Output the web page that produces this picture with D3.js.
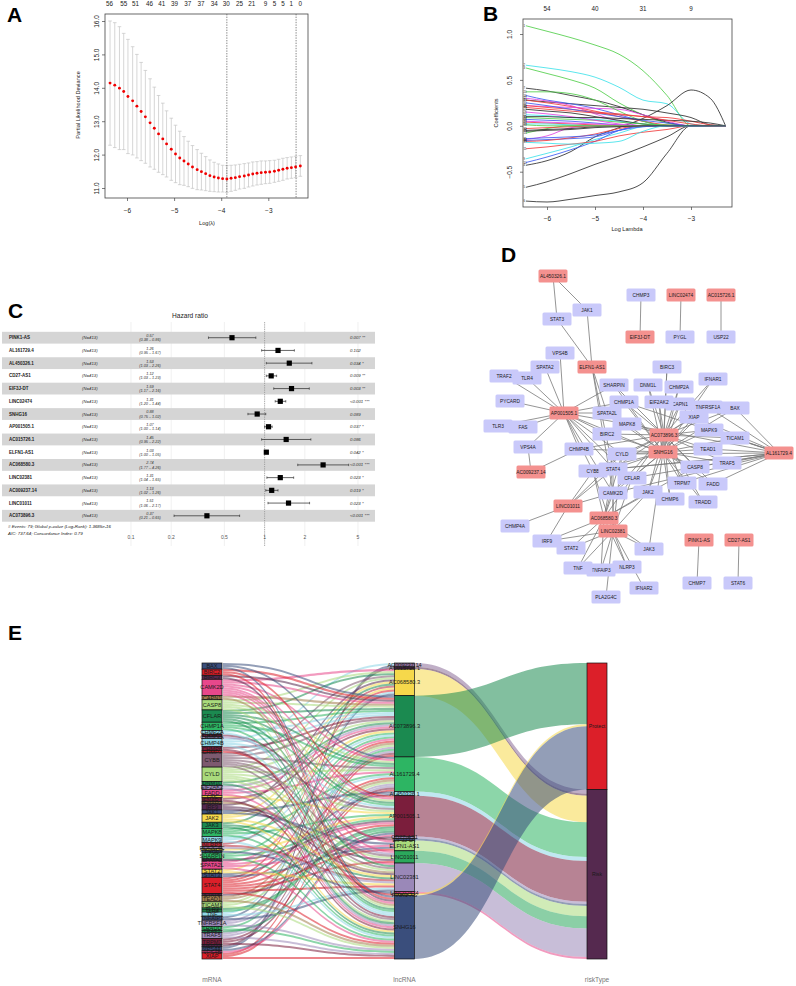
<!DOCTYPE html>
<html>
<head>
<meta charset="utf-8">
<title>Figure</title>
<script src="https://cdn.jsdelivr.net/npm/d3@7"></script>
<style>
  body { margin: 0; background: #fff; }
  svg { display: block; font-family: "Liberation Sans", Arial, Helvetica, sans-serif; }
</style>
</head>
<body>
<div id="figure"></div>
<script>
// ---------------- Panel A data (CV curve) ----------------
const lambdaA = [-6.36,-6.26,-6.16,-6.07,-5.98,-5.88,-5.79,-5.70,-5.61,-5.51,-5.42,-5.33,-5.24,-5.16,-5.06,
  -4.97,-4.88,-4.79,-4.70,-4.61,-4.51,-4.42,-4.33,-4.24,-4.15,-4.06,-3.97,-3.88,-3.79,-3.70,
  -3.61,-3.51,-3.42,-3.33,-3.24,-3.15,-3.06,-2.97,-2.87,-2.78,-2.69,-2.60,-2.51,-2.42,-2.32];
const cvmA = [14.14,14.08,13.99,13.89,13.74,13.61,13.45,13.29,13.13,12.95,12.79,12.62,12.47,12.32,12.16,
  12.02,11.90,11.81,11.72,11.63,11.55,11.49,11.43,11.37,11.33,11.30,11.28,11.27,11.29,11.31,
  11.34,11.36,11.39,11.42,11.44,11.46,11.47,11.48,11.50,11.53,11.56,11.59,11.61,11.63,11.66];
const cvsdA = [1.86,1.87,1.84,1.74,1.71,1.62,1.55,1.47,1.39,1.32,1.23,1.15,1.07,0.99,0.93,
  0.86,0.80,0.73,0.68,0.64,0.60,0.55,0.51,0.47,0.44,0.42,0.40,0.40,0.39,0.38,
  0.37,0.37,0.36,0.36,0.35,0.35,0.34,0.34,0.33,0.33,0.33,0.32,0.32,0.32,0.31];
const nzeroA = [56,55,51,46,41,39,37,37,34,30,25,21,9,5,5,1,0];
const nzeroAtA = [-6.37,-6.07,-5.82,-5.52,-5.26,-4.99,-4.71,-4.43,-4.15,-3.89,-3.61,-3.35,-3.06,-2.87,-2.69,-2.51,-2.32];
const lambdaMinA = -3.88, lambda1seA = -2.41;

// ---------------- Panel B data (coefficient paths) ----------------
const gridB = [-6.44,-6.0,-5.5,-5.0,-4.5,-4.0,-3.5,-3.0,-2.6,-2.28];
const pathsB = [
  [1.09,1.03,0.96,0.88,0.78,0.60,0.33,0,0,0],
  [0.66,0.63,0.59,0.53,0.42,0.28,0.24,0.02,0,0],
  [0.63,0.57,0.50,0.41,0.25,0.12,0.03,0,0,0],
  [-0.43,-0.38,-0.28,-0.12,-0.02,0.08,0.22,0.39,0.30,0],
  [-0.67,-0.61,-0.52,-0.42,-0.33,-0.23,-0.12,0,0,0],
  [-0.82,-0.83,-0.80,-0.76,-0.72,-0.62,-0.30,0,0,0],
  [0.41,0.38,0.33,0.28,0.21,0.12,0.04,0,0,0],
  [0.28,0.26,0.24,0.22,0.20,0.18,0.14,0.09,0.01,0],
  [-0.36,-0.30,-0.23,-0.15,-0.08,-0.01,0,0,0,0],
  [-0.40,-0.34,-0.26,-0.17,-0.05,0,0,0,0,0],
  [-0.25,-0.23,-0.20,-0.17,-0.11,-0.07,-0.04,0,0,0],
  [-0.15,-0.11,-0.02,0,0,0,0,0,0,0],
  [-0.08,-0.03,0,0,0,0,0,0,0,0],
  [-0.16,-0.15,-0.14,-0.12,-0.05,0,0,0,0,0],
  [-0.17,-0.16,-0.13,-0.09,-0.03,0,0,0,0,0],
  [0.33,0.28,0.24,0.19,0.12,0.05,0,0,0,0],
  [0.30,0.27,0.22,0.13,0.05,0,0,0,0,0],
  [0.28,0.25,0.21,0.16,0.10,0.05,0.01,0,0,0],
  [0.22,0.21,0.20,0.19,0.18,0.12,0.05,0,0,0],
  [0.37,0.37,0.35,0.28,0.16,0.05,0,0,0,0],
  [0.22,0.20,0.18,0.15,0.13,0.10,0.09,0.05,0.01,0],
  [0.12,0.11,0.09,0.07,0.05,0.02,0,0,0,0],
  [0.18,0.16,0.14,0.10,0.06,0.02,0,0,0,0],
  [0.07,0.06,0.05,0.03,0.01,0,0,0,0,0],
  [0.09,0.08,0.07,0.06,0.04,0.02,0.01,0,0,0],
  [0.15,0.13,0.10,0.06,0.02,0,0,0,0,0],
  [0.04,0.03,0.02,0.01,0,0,0,0,0,0],
  [-0.05,-0.04,-0.03,-0.01,0,0,0,0,0,0],
  [0.02,0.02,0.01,0,0,0,0,0,0,0],
  [0.25,0.22,0.18,0.14,0.10,0.06,0.03,0,0,0],
  [0.10,0.10,0.09,0.09,0.08,0.07,0.06,0.05,0.03,0],
  [-0.03,-0.02,-0.01,0,0,0,0,0,0,0],
  [0.05,0.04,0.03,0.02,0.01,0,0,0,0,0],
  [0.01,0,0,0,0,0,0,0,0,0],
  [-0.14,-0.13,-0.12,-0.10,-0.05,-0.01,0,0,0,0],
  [0.20,0.18,0.16,0.14,0.12,0.10,0.06,0.02,0,0],
  [-0.18,-0.19,-0.20,-0.19,-0.17,-0.06,0,0,0,0],
  [-0.06,-0.05,-0.04,-0.02,-0.01,0,0,0,0,0]
];
const colIdxB = [2,4,2,0,0,0,0,0,4,3,1,5,2,3,1,3,5,1,5,2,1,4,0,3,2,5,1,0,4,3,0,1,5,2,3,1,4,0];
const nzeroB = [54,40,31,9];
const nzeroAtB = [-6,-5,-4,-3];

// ---------------- Panel C data (multivariate Cox) ----------------
const hrNames = ["PINK1-AS","AL161729.4","AL450326.1","CD27-AS1","EIF3J-DT","LINC02474","SNHG16","AP001505.1",
  "AC015726.1","ELFN1-AS1","AC068580.3","LINC02381","AC009237.14","LINC01011","AC073896.3"];
const hrVal  = [0.57,1.26,1.53,1.12,1.59,1.31,0.88,1.07,1.45,1.03,2.74,1.31,1.13,1.51,0.37];
const hrLow  = [0.38,0.95,1.03,1.03,1.17,1.20,0.75,1.00,0.95,1.00,1.77,1.04,1.02,1.06,0.21];
const hrHigh = [0.86,1.67,2.26,1.23,2.16,1.44,1.02,1.14,2.22,1.05,4.26,1.65,1.26,2.17,0.65];
const hrP = ["0.007 **","0.102","0.034 *","0.009 **","0.003 **","<0.001 ***","0.089","0.037 *","0.086",
  "0.042 *","<0.001 ***","0.023 *","0.019 *","0.023 *","<0.001 ***"];
const hrTicks = [0.1,0.2,0.5,1,2,5];
const forestNotes = ["# Events: 79; Global p-value (Log-Rank): 1.3685e-16", "AIC: 737.64; Concordance Index: 0.79"];

// ---------------- Panel D / E data (lncRNA - mRNA pairs) ----------------
const lncNames = ["AC009237.14","AC015726.1","AC068580.3","AC073896.3","AL161729.4","AL450326.1","AP001505.1",
  "CD27-AS1","EIF3J-DT","ELFN1-AS1","LINC01011","LINC02381","LINC02474","PINK1-AS","SNHG16"];
const lncTargets = [
  ["VPS4A","CHMP4B"],
  ["USP22"],
  ["CAMK2D","JAK2","STAT2","IRF9","TNF","TNFAIP3","STAT4","CYBB","CFLAR","CYLD","NLRP3","JAK3","CASP8"],
  ["CHMP1A","MAPK8","BIRC2","CYLD","EIF2AK2","DNM1L","BIRC3","CHMP2A","CAPN1","TNFRSF1A","XIAP","MAPK9","TICAM1",
   "TEAD1","STAT4","CFLAR","JAK2","SHARPIN","CASP8","TRAF5","CYBB","CAMK2D","IFNAR1","SPATA2L","CHMP4B","TRPM7",
   "CHMP6","FADD","TRADD","BAX"],
  ["TNFRSF1A","BAX","XIAP","MAPK9","TICAM1","TEAD1","TRAF5","FADD","CASP8","CFLAR","STAT4","CYLD","CAMK2D",
   "CHMP1A","MAPK8","CYBB","TRPM7"],
  ["STAT3","JAK1"],
  ["TRAF2","TLR4","SPATA2","VPS4B","PYCARD","TLR3","FAS","VPS4A","CHMP4B","SHARPIN","CHMP1A","SPATA2L","BIRC2",
   "MAPK8","CYLD","STAT4","CAMK2D","CYBB","CFLAR","CASP8"],
  ["STAT6"],
  ["CHMP3"],
  ["JAK1","STAT3","SPATA2L","CAMK2D","STAT4"],
  ["CHMP4A","IRF9","CAMK2D","CYBB","STAT4","CYLD"],
  ["STAT2","TNF","TNFAIP3","NLRP3","PLA2G4C","JAK3","IFNAR2","IRF9","CAMK2D","STAT4","CYBB","CFLAR","JAK2","CYLD"],
  ["PYGL"],
  ["CHMP7"],
  ["CHMP1A","MAPK8","BIRC2","CYLD","EIF2AK2","DNM1L","BIRC3","CHMP2A","CAPN1","TNFRSF1A","XIAP","MAPK9","TICAM1",
   "TEAD1","STAT4","CFLAR","JAK2","SHARPIN","CASP8","TRAF5","CYBB","CAMK2D","IFNAR1","TRPM7","CHMP6","FADD",
   "TRADD","CHMP4B","SPATA2L","BAX","JAK3"]
];
const lncColors = ["#8c6d99","#55294f","#f6d84b","#1b8a50","#2db563","#8dd6e6","#7b1e3c","#9a88b8","#3a4e7c",
  "#a9da7c","#2ba85c","#9a88b8","#e8488b","#f6d84b","#3a4e7c"];
const mrnaNames = ["BAX","BIRC2","BIRC3","CAMK2D","CAPN1","CASP8","CFLAR","CHMP1A","CHMP2A","CHMP3","CHMP4A","CHMP4B",
  "CHMP6","CHMP7","CYBB","CYLD","DNM1L","EIF2AK2","FADD","FAS","IFNAR1","IFNAR2","IRF9","JAK1","JAK2","JAK3","MAPK8",
  "MAPK9","NLRP3","PLA2G4C","PYCARD","PYGL","SHARPIN","SPATA2","SPATA2L","STAT2","STAT3","STAT4","STAT6","TEAD1",
  "TICAM1","TLR3","TLR4","TNF","TNFAIP3","TNFRSF1A","TRADD","TRAF2","TRAF5","TRPM7","USP22","VPS4A","VPS4B","XIAP"];
const mrnaColors = ["#3a4e7c","#dc1f29","#55294f","#e8488b","#a4804e","#a9da7c","#1b8a50","#2db563","#8dd6e6",
  "#7b1e3c","#9a88b8","#8dd6e6","#7b1e3c","#dc1f29","#7d5a70","#a9da7c","#1b8a50","#9a88b8","#e8488b","#f6d84b",
  "#7b1e3c","#a4804e","#55294f","#3a4e7c","#f6d84b","#1b8a50","#2db563","#8dd6e6","#b52a3a","#9a88b8","#f6d84b",
  "#3a4e7c","#2db563","#55294f","#e8488b","#f6d84b","#3a4e7c","#dc1f29","#55294f","#a4804e","#a9da7c","#1b8a50",
  "#2db563","#8dd6e6","#3a4e7c","#9a88b8","#2db563","#1b8a50","#9a88b8","#7b1e3c","#55294f","#3a4e7c","#e8488b",
  "#dc1f29"];
const riskNames = ["Protect","Risk"];
const riskColors = ["#dc1f29","#55294f"];

// Cytoscape-style layout of the network (layout units)
const netLayout = [
  ["AL450326.1",73,16],["CHMP3",161,35],["LINC02474",201,35],["AC015726.1",241,35],["JAK1",107,50],
  ["STAT3",77,59],["EIF3J-DT",160,77],["PYGL",200,77],["USP22",241,77],["VPS4B",80,93],["ELFN1-AS1",112,107],
  ["SPATA2",65,107],["TRAF2",24,116],["TLR4",47,118],["BIRC3",187,107],["IFNAR1",233,119],["DNM1L",168,125],
  ["SHARPIN",134,125],["CHMP2A",199,127],["PYCARD",30,141],["CAPN1",200,144],["CHMP1A",144,142],
  ["EIF2AK2",179,142],["TNFRSF1A",228,147],["BAX",255,148],["AP001505.1",84,153],["SPATA2L",127,153],
  ["XIAP",214,157],["TLR3",18,166],["FAS",43,167],["MAPK8",147,164],["MAPK9",229,170],["BIRC2",127,174],
  ["AC073896.3",184,175],["TICAM1",255,178],["VPS4A",48,187],["CHMP4B",99,189],["TEAD1",228,189],["CYLD",142,194],
  ["SNHG16",183,192],["AL161729.4",299,193],["AC009237.14",51,212],["CYBB",113,211],["STAT4",133,209],
  ["CFLAR",152,218],["CASP8",215,207],["TRAF5",247,203],["TRPM7",202,223],["FADD",233,224],["CAMK2D",133,233],
  ["JAK2",168,232],["CHMP6",190,239],["TRADD",223,242],["LINC01011",88,246],["AC068580.3",124,258],
  ["CHMP4A",35,266],["LINC02381",133,271],["IRF9",67,281],["STAT2",91,288],["JAK3",169,289],["PINK1-AS",219,280],
  ["CD27-AS1",259,280],["TNFAIP3",121,310],["TNF",98,308],["NLRP3",147,307],["IFNAR2",164,328],
  ["PLA2G4C",126,337],["CHMP7",217,323],["STAT6",258,323]
];

// ================= drawing =================
const svg = d3.select("#figure").append("svg").attr("width", 796).attr("height", 986);
svg.append("rect").attr("width", 796).attr("height", 986).attr("fill", "#fff");

// panel letters
const letters = [["A", 7, 22], ["B", 483, 21], ["C", 8, 318], ["D", 501, 262], ["E", 8, 640]];
svg.selectAll(".letter").data(letters).join("text")
  .attr("x", d => d[1]).attr("y", d => d[2])
  .attr("font-size", 21).attr("font-weight", "bold").attr("fill", "#000")
  .text(d => d[0]);

// ---------- A ----------
const gA = svg.append("g");
const xA = d3.scaleLinear().domain([-6, -3]).range([127, 268.3]);
const yA = d3.scaleLinear().domain([11, 16]).range([188, 21]);
const boxA = [105, 308, 14, 198];

gA.append("rect").attr("x", boxA[0]).attr("y", boxA[2])
  .attr("width", boxA[1] - boxA[0]).attr("height", boxA[3] - boxA[2])
  .attr("fill", "none").attr("stroke", "#444").attr("stroke-width", 0.8);

// error bars
const ebA = gA.append("g").attr("stroke", "#c4c4c4").attr("stroke-width", 0.7);
ebA.selectAll(".v").data(lambdaA).join("line")
  .attr("x1", d => xA(d)).attr("x2", d => xA(d))
  .attr("y1", (d, i) => yA(cvmA[i] + cvsdA[i])).attr("y2", (d, i) => yA(cvmA[i] - cvsdA[i]));
ebA.selectAll(".cu").data(lambdaA).join("line")
  .attr("x1", d => xA(d) - 1.8).attr("x2", d => xA(d) + 1.8)
  .attr("y1", (d, i) => yA(cvmA[i] + cvsdA[i])).attr("y2", (d, i) => yA(cvmA[i] + cvsdA[i]));
ebA.selectAll(".cl").data(lambdaA).join("line")
  .attr("x1", d => xA(d) - 1.8).attr("x2", d => xA(d) + 1.8)
  .attr("y1", (d, i) => yA(cvmA[i] - cvsdA[i])).attr("y2", (d, i) => yA(cvmA[i] - cvsdA[i]));

// lambda.min / lambda.1se
gA.selectAll(".vl").data([lambdaMinA, lambda1seA]).join("line")
  .attr("x1", d => xA(d)).attr("x2", d => xA(d))
  .attr("y1", boxA[2]).attr("y2", boxA[3])
  .attr("stroke", "#555").attr("stroke-width", 0.7).attr("stroke-dasharray", "1.4,1.2");

gA.selectAll(".pt").data(lambdaA).join("circle")
  .attr("cx", d => xA(d)).attr("cy", (d, i) => yA(cvmA[i]))
  .attr("r", 1.45).attr("fill", "#f00000");

// axes
const axA_b = gA.append("g").attr("transform", `translate(0,${boxA[3]})`)
  .call(d3.axisBottom(xA).tickValues([-6, -5, -4, -3]).tickSize(3).tickPadding(7));
const axA_l = gA.append("g").attr("transform", `translate(${boxA[0]},0)`)
  .call(d3.axisLeft(yA).tickValues([11, 12, 13, 14, 15, 16]).tickSize(3));
[axA_b, axA_l].forEach(a => {
  a.select(".domain").remove();
  a.selectAll("line").attr("stroke", "#444").attr("stroke-width", 0.7);
  a.selectAll("text").attr("font-size", 6.5).attr("fill", "#222").attr("font-family", null);
});
axA_b.selectAll("text").text(d => "\u2212" + Math.abs(d));
axA_l.selectAll("text").attr("transform", "rotate(-90)").attr("x", 0).attr("y", -5.6)
  .attr("dy", 0).attr("text-anchor", "middle");

gA.selectAll(".nz").data(nzeroA).join("text")
  .attr("x", (d, i) => xA(nzeroAtA[i])).attr("y", 6.4)
  .attr("text-anchor", "middle").attr("font-size", 6.3).attr("fill", "#222").text(d => d);

gA.append("text").attr("x", 207).attr("y", 225).attr("text-anchor", "middle")
  .attr("font-size", 5.6).attr("fill", "#222").text("Log(\u03bb)");
gA.append("text").attr("transform", "translate(80,105) rotate(-90)").attr("text-anchor", "middle")
  .attr("font-size", 5.6).attr("fill", "#222").text("Partial Likelihood Deviance");

// ---------- B ----------
const gB = svg.append("g");
const xB = d3.scaleLinear().domain([-6, -3]).range([547, 691]);
const yB = d3.scaleLinear().domain([-0.5, 1.0]).range([171.7, 34]);
const boxB = [523, 732, 19, 207];
const paletteB = ["#2e2e2e", "#f03c3c", "#52cf4a", "#3f5cf0", "#3fe2ea", "#e244e0"];

gB.append("rect").attr("x", boxB[0]).attr("y", boxB[2])
  .attr("width", boxB[1] - boxB[0]).attr("height", boxB[3] - boxB[2])
  .attr("fill", "none").attr("stroke", "#444").attr("stroke-width", 0.8);

const lineB = d3.line().x((d, i) => xB(gridB[i])).y(d => yB(d)).curve(d3.curveMonotoneX);
gB.selectAll(".path").data(pathsB).join("path")
  .attr("d", lineB).attr("fill", "none")
  .attr("stroke", (d, i) => paletteB[colIdxB[i]]).attr("stroke-width", 0.85);

gB.selectAll(".lab").data(pathsB).join("text")
  .attr("x", xB(gridB[0]) - 2.4).attr("y", d => yB(d[0]) + 1)
  .attr("font-size", 2.8).attr("fill", "#222").text((d, i) => i + 1);

const axB_b = gB.append("g").attr("transform", `translate(0,${boxB[3]})`)
  .call(d3.axisBottom(xB).tickValues([-6, -5, -4, -3]).tickSize(3).tickPadding(6));
const axB_l = gB.append("g").attr("transform", `translate(${boxB[0]},0)`)
  .call(d3.axisLeft(yB).tickValues([-0.5, 0, 0.5, 1.0]).tickSize(3));
[axB_b, axB_l].forEach(a => {
  a.select(".domain").remove();
  a.selectAll("line").attr("stroke", "#444").attr("stroke-width", 0.7);
  a.selectAll("text").attr("font-size", 6.5).attr("fill", "#222").attr("font-family", null);
});
axB_b.selectAll("text").text(d => "\u2212" + Math.abs(d));
axB_l.selectAll("text").text(d => (d < 0 ? "\u2212" : "") + Math.abs(d).toFixed(1))
  .attr("transform", "rotate(-90)").attr("x", 0).attr("y", -11.3)
  .attr("dy", 0).attr("text-anchor", "middle");

gB.selectAll(".nz").data(nzeroB).join("text")
  .attr("x", (d, i) => xB(nzeroAtB[i])).attr("y", 10.6)
  .attr("text-anchor", "middle").attr("font-size", 6.3).attr("fill", "#222").text(d => d);
gB.append("text").attr("x", 627).attr("y", 231).attr("text-anchor", "middle")
  .attr("font-size", 5.6).attr("fill", "#222").text("Log Lambda");
gB.append("text").attr("transform", "translate(498,113) rotate(-90)").attr("text-anchor", "middle")
  .attr("font-size", 5.6).attr("fill", "#222").text("Coefficients");

// ---------- C ----------
const gC = svg.append("g");
const xC = d3.scaleLog().domain([0.1, 5]).range([131, 358]);
const yC = d3.scaleBand().domain(hrNames).range([331.35, 522.15]);
const bw = yC.bandwidth();
const rowY = d => yC(d) + bw / 2;

gC.selectAll(".grid").data(hrTicks).join("line")
  .attr("x1", d => xC(d)).attr("x2", d => xC(d)).attr("y1", 322).attr("y2", 546)
  .attr("stroke", "#e6e6e6").attr("stroke-width", 0.6);
gC.selectAll(".band").data(hrNames.filter((d, i) => i % 2 === 0)).join("rect")
  .attr("x", 2).attr("width", 373).attr("y", d => yC(d) + 0.45).attr("height", bw - 0.9)
  .attr("fill", "#d5d5d5");
gC.append("line").attr("x1", xC(1)).attr("x2", xC(1)).attr("y1", 322).attr("y2", 546)
  .attr("stroke", "#666").attr("stroke-width", 0.6).attr("stroke-dasharray", "0.8,1");

gC.append("text").attr("x", 190).attr("y", 317.5).attr("text-anchor", "middle")
  .attr("font-size", 6.6).attr("fill", "#222").text("Hazard ratio");

const rowsC = gC.selectAll(".row").data(hrNames).join("g");
rowsC.append("text").attr("x", 9).attr("y", d => rowY(d) + 1.5)
  .attr("font-size", 4.5).attr("font-weight", "bold").attr("fill", "#222").text(d => d);
rowsC.append("text").attr("x", 82).attr("y", d => rowY(d) + 1.5)
  .attr("font-size", 4.3).attr("font-style", "italic").attr("fill", "#333").text("(N=413)");
rowsC.append("text").attr("x", 150).attr("y", d => rowY(d) - 0.6).attr("text-anchor", "middle")
  .attr("font-size", 3.8).attr("font-style", "italic").attr("fill", "#333")
  .text((d, i) => hrVal[i].toFixed(2));
rowsC.append("text").attr("x", 150).attr("y", d => rowY(d) + 3.6).attr("text-anchor", "middle")
  .attr("font-size", 3.8).attr("font-style", "italic").attr("fill", "#333")
  .text((d, i) => `(${hrLow[i].toFixed(2)} \u2013 ${hrHigh[i].toFixed(2)})`);
rowsC.append("line")
  .attr("x1", (d, i) => xC(hrLow[i])).attr("x2", (d, i) => xC(hrHigh[i]))
  .attr("y1", rowY).attr("y2", rowY).attr("stroke", "#222").attr("stroke-width", 0.7);
rowsC.append("line")
  .attr("x1", (d, i) => xC(hrLow[i])).attr("x2", (d, i) => xC(hrLow[i]))
  .attr("y1", d => rowY(d) - 1.2).attr("y2", d => rowY(d) + 1.2).attr("stroke", "#222").attr("stroke-width", 0.6);
rowsC.append("line")
  .attr("x1", (d, i) => xC(hrHigh[i])).attr("x2", (d, i) => xC(hrHigh[i]))
  .attr("y1", d => rowY(d) - 1.2).attr("y2", d => rowY(d) + 1.2).attr("stroke", "#222").attr("stroke-width", 0.6);
rowsC.append("rect")
  .attr("x", (d, i) => xC(hrVal[i]) - 2.6).attr("y", d => rowY(d) - 2.6)
  .attr("width", 5.2).attr("height", 5.2).attr("fill", "#000");
rowsC.append("text").attr("x", 350).attr("y", d => rowY(d) + 1.5)
  .attr("font-size", 4.3).attr("font-style", "italic").attr("fill", "#333").text((d, i) => hrP[i]);

gC.selectAll(".note").data(forestNotes).join("text")
  .attr("x", 8).attr("y", (d, i) => 527.6 + i * 7)
  .attr("font-size", 4.4).attr("font-style", "italic").attr("fill", "#222").text(d => d);
gC.selectAll(".tl").data(hrTicks).join("text")
  .attr("x", d => xC(d)).attr("y", 538.5).attr("text-anchor", "middle")
  .attr("font-size", 5).attr("fill", "#555").text(d => d);

// ---------- D ----------
const gD = svg.append("g");
const xD = d3.scaleLinear().domain([0, 316]).range([480, 796]);
const yD = d3.scaleLinear().domain([0, 390]).range([260, 650]);
const nodePos = new Map(netLayout.map(d => [d[0], [xD(d[1]), yD(d[2])]]));
const edges = [];
lncNames.forEach((l, i) => lncTargets[i].forEach(m => edges.push([l, m])));

gD.selectAll(".edge").data(edges).join("line")
  .attr("x1", d => nodePos.get(d[0])[0]).attr("y1", d => nodePos.get(d[0])[1])
  .attr("x2", d => nodePos.get(d[1])[0]).attr("y2", d => nodePos.get(d[1])[1])
  .attr("stroke", "#7a7a7a").attr("stroke-width", 0.8);

const nodeW = 29, nodeH = 13.2;
const nodes = gD.selectAll(".node").data(netLayout).join("g")
  .attr("transform", d => `translate(${xD(d[1])},${yD(d[2])})`);
nodes.append("rect")
  .attr("x", -nodeW / 2).attr("y", -nodeH / 2).attr("width", nodeW).attr("height", nodeH).attr("rx", 1.5)
  .attr("fill", d => lncNames.includes(d[0]) ? "#f4918f" : "#c9c9fa");
nodes.append("text").attr("text-anchor", "middle").attr("dy", "0.35em")
  .attr("font-size", 4.8).attr("fill", "#1a1a1a").text(d => d[0]);

// ---------- E ----------
const gE = svg.append("g");
const axisX = d3.scalePoint().domain(["mRNA", "lncRNA", "riskType"]).range([212, 597]);
const colW = 20;
const links = edges.map(d => {
  const li = lncNames.indexOf(d[0]);
  return { lnc: d[0], mrna: d[1], risk: hrVal[hrNames.indexOf(d[0])] > 1 ? "Risk" : "Protect", li: li };
});
const yE = d3.scaleLinear().domain([0, links.length]).range([663, 959]);

function strata(names, colors, key) {
  let acc = 0;
  return names.map((n, i) => {
    const c = links.filter(l => l[key] === n).length;
    const s = { name: n, start: acc, count: c, color: colors[i] };
    acc += c;
    return s;
  }).filter(s => s.count > 0);
}
const stM = strata(mrnaNames, mrnaColors, "mrna");
const stL = strata(lncNames, lncColors, "lnc");
const stR = strata(riskNames, riskColors, "risk");
const sM = new Map(stM.map(s => [s.name, s]));
const sL = new Map(stL.map(s => [s.name, s]));
const sR = new Map(stR.map(s => [s.name, s]));
const mOrder = new Map(mrnaNames.map((d, i) => [d, i]));
const lOrder = new Map(lncNames.map((d, i) => [d, i]));

// lode positions, mRNA -> lncRNA
d3.group(links, d => d.mrna).forEach((arr, k) => {
  arr.sort((a, b) => lOrder.get(a.lnc) - lOrder.get(b.lnc))
    .forEach((d, i) => { d.y0 = sM.get(k).start + i; });
});
d3.group(links, d => d.lnc).forEach((arr, k) => {
  arr.sort((a, b) => mOrder.get(a.mrna) - mOrder.get(b.mrna))
    .forEach((d, i) => { d.y1 = sL.get(k).start + i; });
});
// lncRNA -> riskType
const rightFlows = stL.map(s => ({ lnc: s.name, color: s.color, y0: s.start, count: s.count,
  risk: hrVal[hrNames.indexOf(s.name)] > 1 ? "Risk" : "Protect" }));
d3.group(rightFlows, d => d.risk).forEach((arr, k) => {
  let acc = sR.get(k).start;
  arr.sort((a, b) => lOrder.get(a.lnc) - lOrder.get(b.lnc)).forEach(d => { d.y1 = acc; acc += d.count; });
});

function ribbon(xa, ya0, ya1, xb, yb0, yb1) {
  const xm = (xa + xb) / 2;
  const p = d3.path();
  p.moveTo(xa, ya0);
  p.bezierCurveTo(xm, ya0, xm, yb0, xb, yb0);
  p.lineTo(xb, yb1);
  p.bezierCurveTo(xm, yb1, xm, ya1, xa, ya1);
  p.closePath();
  return p.toString();
}

const xL0 = axisX("mRNA") + colW / 2 + 1, xL1 = axisX("lncRNA") - colW / 2;
const xR0 = axisX("lncRNA") + colW / 2, xR1 = axisX("riskType") - colW / 2;

gE.append("g").selectAll("path").data(links).join("path")
  .attr("d", d => ribbon(xL0, yE(d.y0), yE(d.y0 + 1), xL1, yE(d.y1), yE(d.y1 + 1)))
  .attr("fill", d => sM.get(d.mrna).color).attr("fill-opacity", 0.55);
gE.append("g").selectAll("path").data(rightFlows).join("path")
  .attr("d", d => ribbon(xR0, yE(d.y0), yE(d.y0 + d.count), xR1, yE(d.y1), yE(d.y1 + d.count)))
  .attr("fill", d => d.color).attr("fill-opacity", 0.55);

const columnsE = [["mRNA", stM, 5.6], ["lncRNA", stL, 5.6], ["riskType", stR, 5.2]];
columnsE.forEach(([ax, st, fs]) => {
  const g = gE.append("g");
  g.selectAll("rect").data(st).join("rect")
    .attr("x", axisX(ax) - colW / 2).attr("width", colW)
    .attr("y", d => yE(d.start)).attr("height", d => yE(d.count) - yE(0))
    .attr("fill", d => d.color).attr("stroke", "#111").attr("stroke-width", 0.7);
  g.selectAll("text").data(st).join("text")
    .attr("x", axisX(ax)).attr("y", d => yE(d.start + d.count / 2)).attr("dy", "0.35em")
    .attr("text-anchor", "middle").attr("font-size", fs).attr("fill", "#1a1a1a").text(d => d.name);
});

gE.selectAll(".axlab").data(axisX.domain()).join("text")
  .attr("x", d => axisX(d)).attr("y", 982).attr("text-anchor", "middle")
  .attr("font-size", 6.6).attr("fill", "#777").text(d => d);
</script>
</body>
</html>
